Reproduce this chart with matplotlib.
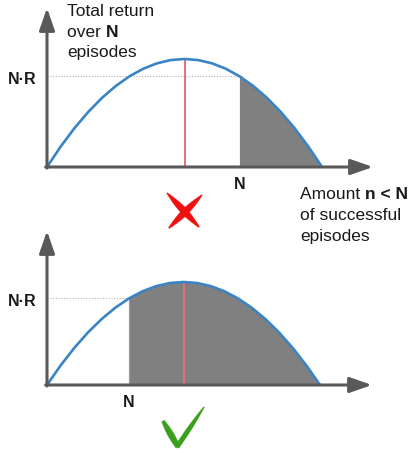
import numpy as np
import matplotlib
matplotlib.use("Agg")
import matplotlib.pyplot as plt

plt.rcParams["font.family"] = ["Liberation Sans", "DejaVu Sans"]

# ---------------------------------------------------------------------------
# Data (schematic return curve)
# ---------------------------------------------------------------------------
n_vals = [0.0, 0.5, 1.0, 1.5, 2.0, 2.5, 3.0, 3.5, 4.0, 4.5, 5.0,
          5.5, 6.0, 6.5, 7.0, 7.5, 8.0, 8.5, 9.0, 9.5, 10.0]
return_vals = [0.00, 0.19, 0.36, 0.51, 0.64, 0.75, 0.84, 0.91, 0.96, 0.99, 1.00,
               0.99, 0.96, 0.91, 0.84, 0.75, 0.64, 0.51, 0.36, 0.19, 0.00]
n_peak = 5.0
N_top = 7.0          # bad case: N beyond the peak
N_bottom = 3.0       # good case: N before the peak
NR_top = 0.84
NR_bottom = 0.84

# (plain prefix, bold suffix) per line
y_label_lines = [("Total return", ""), ("over ", "N"), ("episodes", "")]
x_label_lines = [("Amount ", "n < N"), ("of successful", ""), ("episodes", "")]

# ---------------------------------------------------------------------------
# Styles
# ---------------------------------------------------------------------------
W, H = 409, 455
AXIS_COL = "#595959"
CURVE_COL = "#3a84c4"
PEAK_COL = "#e87070"
FILL_COL = "#808080"
TEXT_COL = "#1a1a1a"

fig = plt.figure(figsize=(W / 100, H / 100), dpi=100)


def fx(x):
    return x / W


def fy(y):
    return 1 - y / H


def draw_panel(ax, N, NR, x_tip, y_tip):
    n = np.array(n_vals)
    r = np.array(return_vals)
    ax.axis("off")

    # shaded area beyond N
    ax.axvline(N, ymin=0, ymax=NR / ax.get_ylim()[1], color="#c8c8c8", lw=1.0, zorder=1)
    ax.fill_between(n, 0, r, where=n >= N, color=FILL_COL, lw=0, zorder=2)

    # dotted N·R level
    ax.plot([0, N], [NR, NR], color="#b5b5b5", lw=0.8, ls=(0, (1, 1.5)), zorder=1)

    # peak marker
    ax.plot([n_peak, n_peak], [0, max(return_vals)], color=PEAK_COL, lw=1.4, zorder=4)

    # return curve
    ax.plot(n, r, color=CURVE_COL, lw=1.9, zorder=5, solid_capstyle="round")

    # axes with arrow heads
    arrow = dict(arrowstyle="-|>,head_length=1.35,head_width=0.47", lw=2.2,
                 color=AXIS_COL, shrinkA=0, shrinkB=0, mutation_scale=10)
    ax.annotate("", xy=(x_tip, 0), xytext=(-0.05, 0), arrowprops=arrow,
                annotation_clip=False, zorder=6)
    ax.annotate("", xy=(0, y_tip), xytext=(0, -0.01), arrowprops=arrow,
                annotation_clip=False, zorder=6)

    # labels
    ax.annotate("N·R", xy=(0, NR), xytext=(-18, -2.5), textcoords="offset points",
                ha="center", va="center", fontsize=11.5, fontweight="bold",
                color=TEXT_COL, annotation_clip=False)
    ax.annotate("N", xy=(N, 0), xytext=(0, -12.5), textcoords="offset points",
                ha="center", va="center", fontsize=11.5, fontweight="bold",
                color=TEXT_COL, annotation_clip=False)


# top panel: origin at (47,167) px, 27.5 px per episode unit, 108 px per return unit
ax_top = fig.add_axes([fx(47), fy(167), 340 / W, 165 / H])
ax_top.set_xlim(0, 340 / 27.5)
ax_top.set_ylim(0, 165 / 108)
draw_panel(ax_top, N_top, NR_top, (373 - 47) / 27.5, (167 - 8) / 108)

# bottom panel: origin at (47,385) px
ax_bot = fig.add_axes([fx(47), fy(385), 340 / W, 160 / H])
ax_bot.set_xlim(0, 340 / 27.3)
ax_bot.set_ylim(0, 160 / 103)
draw_panel(ax_bot, N_bottom, NR_bottom, (372 - 47) / 27.3, (385 - 231) / 103)

# ---------------------------------------------------------------------------
# Axis titles (plain + bold pieces)
# ---------------------------------------------------------------------------
tkw = dict(fontsize=12.5, color=TEXT_COL, va="baseline", ha="left")
fig.canvas.draw()
renderer = fig.canvas.get_renderer()


def label_block(x, baselines, lines):
    for y, (plain, bold) in zip(baselines, lines):
        t = fig.text(fx(x), fy(y), plain, **tkw)
        if bold:
            bb = t.get_window_extent(renderer)
            fig.text(bb.x1 / fig.bbox.width, fy(y), bold, fontweight="bold", **tkw)


label_block(67, [16, 37, 57], y_label_lines)
label_block(300, [199, 220, 241], x_label_lines)

# ---------------------------------------------------------------------------
# Icons: red cross and green check (tapered brush strokes)
# ---------------------------------------------------------------------------
ov = fig.add_axes([0, 0, 1, 1])
ov.set_xlim(0, W)
ov.set_ylim(H, 0)
ov.axis("off")
ov.patch.set_alpha(0)


def stroke(p0, p1, w0, w1, wmid, color):
    p0, p1 = np.array(p0, float), np.array(p1, float)
    d = p1 - p0
    perp = np.array([-d[1], d[0]]) / np.hypot(*d)
    t = np.linspace(0, 1, 40)
    w = w0 * (1 - t) + w1 * t + wmid * np.sin(np.pi * t)
    pts = p0 + np.outer(t, d)
    left = pts + np.outer(w, perp)
    right = pts - np.outer(w, perp)
    poly = np.vstack([left, right[::-1]])
    ov.fill(poly[:, 0], poly[:, 1], color=color, lw=0.3, ec=color)


RED = "#f01010"
GREEN = "#3aa01c"
stroke((167, 193), (199, 227), 0.4, 0.6, 2.8, RED)
stroke((202, 195), (169, 228), 0.4, 0.6, 2.8, RED)
stroke((163, 421), (178, 447), 1.5, 2.2, 1.2, GREEN)
stroke((177, 447), (204, 407), 2.2, 0.4, 0.8, GREEN)

fig.savefig("out.png", dpi=100)
